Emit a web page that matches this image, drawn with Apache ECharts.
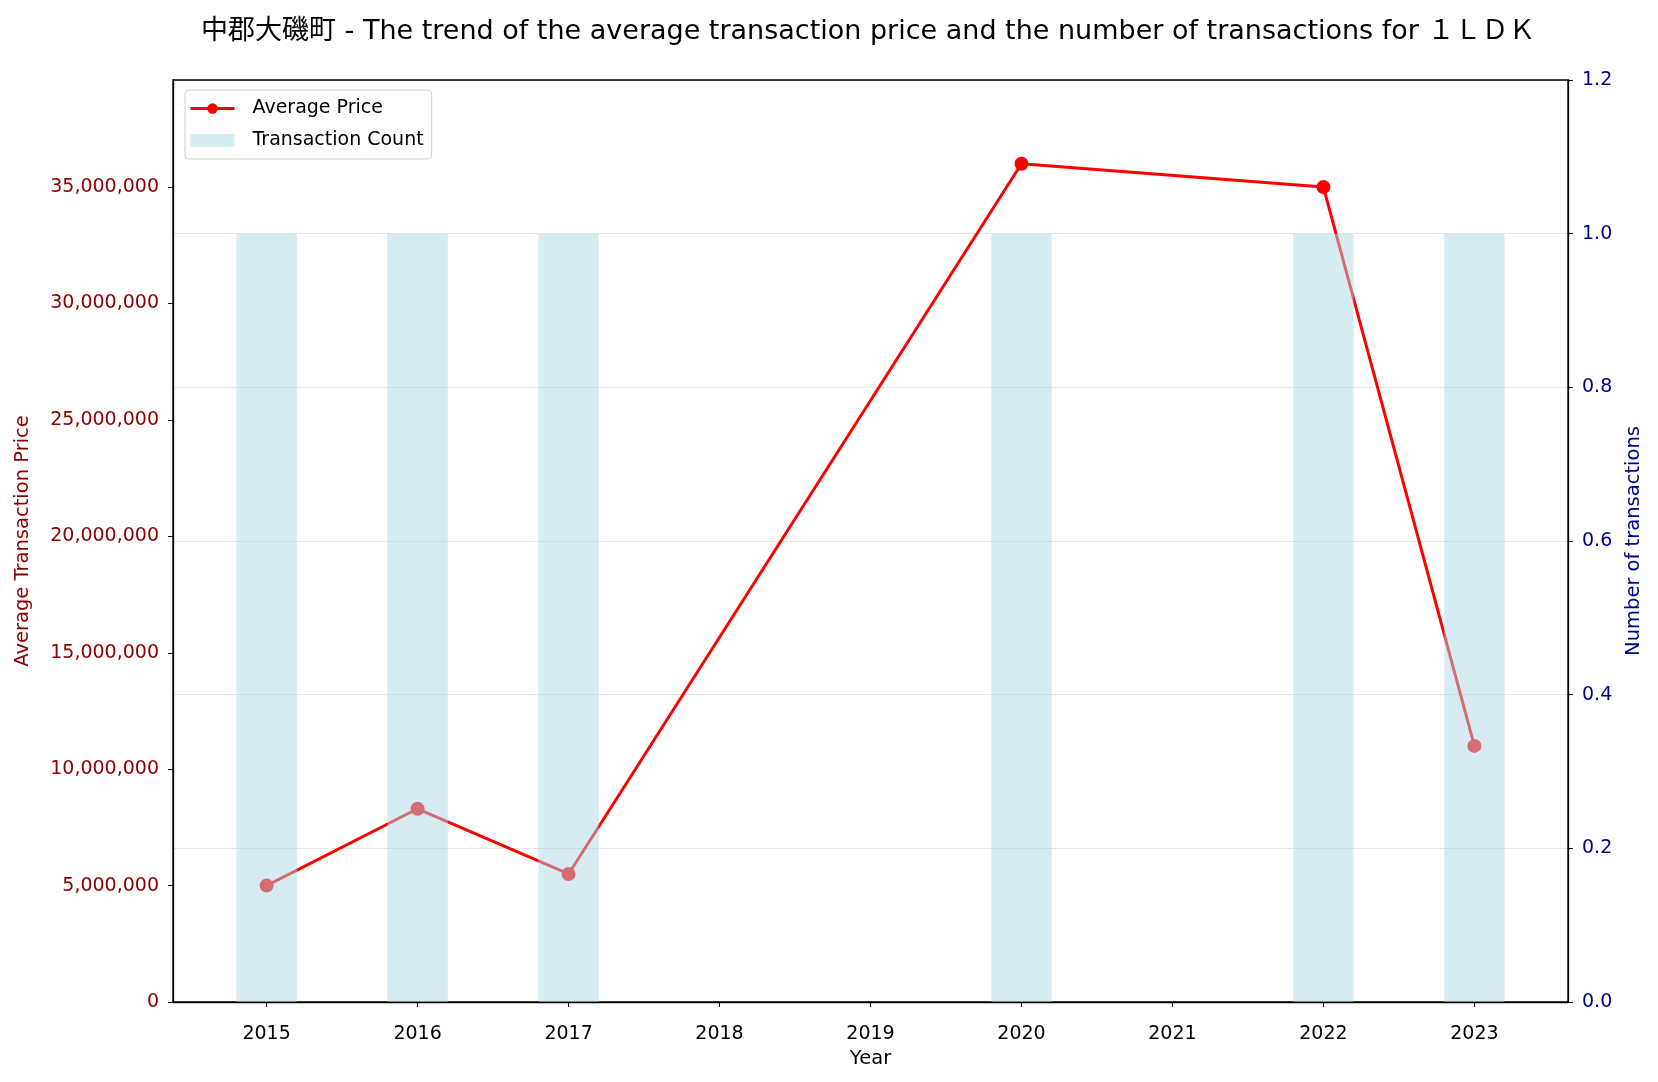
<!DOCTYPE html>
<html><head><meta charset="utf-8">
<script src="https://cdn.jsdelivr.net/npm/echarts@6/dist/echarts.min.js"></script>
<style>html,body{margin:0;padding:0;background:#fff}#c{width:1658px;height:1082px}</style>
</head><body><div id="c"></div>
<script>
const years = [2015, 2016, 2017, 2020, 2022, 2023];
const avgPrice = [5000000, 8300000, 5500000, 36000000, 35000000, 11000000];
const txCount = [1, 1, 1, 1, 1, 1];
const yearTicks = [2015, 2016, 2017, 2018, 2019, 2020, 2021, 2022, 2023];
const priceTicks = [0, 5000000, 10000000, 15000000, 20000000, 25000000, 30000000, 35000000];
const titleText = '中郡大磯町 - The trend of the average transaction price and the number of transactions for １ＬＤＫ';

const FONT = '"DejaVu Sans", "Noto Sans CJK JP", sans-serif';
const chart = echarts.init(document.getElementById('c'), null, {renderer: 'canvas'});
const barHalf = 0.2;
const option = {
  backgroundColor: '#fff',
  animation: false,
  textStyle: {fontFamily: FONT},
  title: {
    text: titleText, left: 196, top: 13,
    textStyle: {fontFamily: FONT, fontSize: 27, fontWeight: 'normal', color: '#000'}
  },
  legend: {
    left: 185, top: 90,
    orient: 'vertical',
    padding: [9, 8, 9, 4],
    itemGap: 13,
    itemWidth: 44, itemHeight: 13,
    borderColor: '#ccc', borderWidth: 1, borderRadius: 4,
    textStyle: {fontFamily: FONT, fontSize: 19, color: '#000', padding: [0, 0, 0, 13]},
    data: [
      {name: 'Average Price', lineStyle: {width: 3}},
      {name: 'Transaction Count', icon: 'rect', itemStyle: {color: 'rgba(173,216,230,0.5)'}}
    ]
  },
  grid: {left: 173, right: 90, top: 80, bottom: 80, show: true, borderColor: '#000', borderWidth: 1.3, backgroundColor: 'transparent'},
  xAxis: {
    type: 'value', min: 2014.38, max: 2023.62,
    name: 'Year', nameLocation: 'middle', nameGap: 46,
    nameTextStyle: {fontFamily: FONT, fontSize: 19.5, color: '#000'},
    axisLine: {show: true, lineStyle: {color: '#000', width: 1.3}},
    axisTick: {show: true, length: 5, lineStyle: {color: '#000'}, customValues: yearTicks},
    axisLabel: {fontFamily: FONT, fontSize: 19, color: '#000', margin: 23, customValues: yearTicks, formatter: v => String(v)},
    splitLine: {show: false}
  },
  yAxis: [
    {
      type: 'value', min: 0, max: 39600000, position: 'left',
      name: 'Average Transaction Price', nameLocation: 'middle', nameGap: 140, nameRotate: 90,
      nameTextStyle: {fontFamily: FONT, fontSize: 19.5, color: '#8b0000'},
      axisLine: {show: true, lineStyle: {color: '#000', width: 1.3}},
      axisTick: {show: true, length: 5, lineStyle: {color: '#000'}, customValues: priceTicks},
      axisLabel: {fontFamily: FONT, fontSize: 19, color: '#8b0000', margin: 14, customValues: priceTicks,
        formatter: v => Number(v).toLocaleString('en-US')},
      splitLine: {show: false}
    },
    {
      type: 'value', min: 0, max: 1.2, interval: 0.2, position: 'right',
      name: 'Number of transactions', nameLocation: 'middle', nameGap: 56, nameRotate: 90,
      nameTextStyle: {fontFamily: FONT, fontSize: 19.5, color: '#00008b'},
      axisLine: {show: true, lineStyle: {color: '#000', width: 1.3}},
      axisTick: {show: true, length: 5, lineStyle: {color: '#000'}},
      axisLabel: {fontFamily: FONT, fontSize: 19, color: '#00008b', margin: 14, formatter: v => Number(v).toFixed(1)},
      splitLine: {show: true, lineStyle: {color: 'rgba(0,0,0,0.1)', width: 1.2}}
    }
  ],
  series: [
    {
      name: 'Average Price', type: 'line', yAxisIndex: 0, z: 2,
      data: years.map((y, i) => [y, avgPrice[i]]),
      symbol: 'circle', symbolSize: 14,
      lineStyle: {color: '#ff0000', width: 3},
      itemStyle: {color: '#ff0000'}
    },
    {
      name: 'Transaction Count', type: 'custom', yAxisIndex: 1, z: 5,
      itemStyle: {color: 'rgba(173,216,230,0.5)'},
      data: years.map((y, i) => [y, txCount[i]]),
      encode: {x: 0, y: 1},
      renderItem: function (params, api) {
        const x = api.value(0), v = api.value(1);
        const p0 = api.coord([x - barHalf, v]);
        const p1 = api.coord([x + barHalf, 0]);
        return {
          type: 'rect',
          shape: {x: p0[0], y: p0[1], width: p1[0] - p0[0], height: p1[1] - p0[1]},
          style: {fill: 'rgba(173,216,230,0.5)'}
        };
      }
    }
  ]
};
chart.setOption(option);
</script></body></html>
